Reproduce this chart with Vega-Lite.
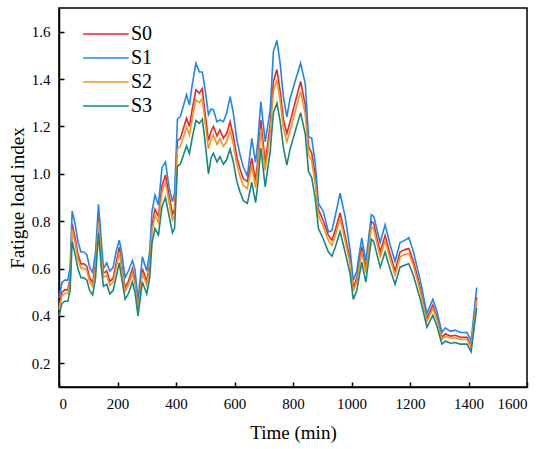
{
  "$schema": "https://vega.github.io/schema/vega-lite/v6.json",
  "width": 468,
  "height": 379,
  "autosize": {"type": "none"},
  "padding": {"left": 59, "top": 8, "right": 23, "bottom": 62},
  "background": "white",
  "data": {
    "values": [
      {"t": 0, "S0": 0.44, "S1": 0.475, "S2": 0.427, "S3": 0.398},
      {"t": 10, "S0": 0.50, "S1": 0.54, "S2": 0.485, "S3": 0.453},
      {"t": 20, "S0": 0.51, "S1": 0.551, "S2": 0.495, "S3": 0.462},
      {"t": 30, "S0": 0.51, "S1": 0.551, "S2": 0.495, "S3": 0.462},
      {"t": 38, "S0": 0.56, "S1": 0.605, "S2": 0.543, "S3": 0.507},
      {"t": 45, "S0": 0.79, "S1": 0.843, "S2": 0.766, "S3": 0.715},
      {"t": 55, "S0": 0.73, "S1": 0.788, "S2": 0.708, "S3": 0.661},
      {"t": 65, "S0": 0.66, "S1": 0.713, "S2": 0.64, "S3": 0.597},
      {"t": 75, "S0": 0.62, "S1": 0.67, "S2": 0.601, "S3": 0.561},
      {"t": 85, "S0": 0.62, "S1": 0.67, "S2": 0.601, "S3": 0.561},
      {"t": 95, "S0": 0.61, "S1": 0.659, "S2": 0.592, "S3": 0.552},
      {"t": 105, "S0": 0.56, "S1": 0.605, "S2": 0.543, "S3": 0.507},
      {"t": 115, "S0": 0.54, "S1": 0.583, "S2": 0.524, "S3": 0.489},
      {"t": 125, "S0": 0.62, "S1": 0.67, "S2": 0.601, "S3": 0.561},
      {"t": 135, "S0": 0.82, "S1": 0.871, "S2": 0.795, "S3": 0.75},
      {"t": 145, "S0": 0.66, "S1": 0.713, "S2": 0.64, "S3": 0.597},
      {"t": 152, "S0": 0.58, "S1": 0.6, "S2": 0.563, "S3": 0.525},
      {"t": 163, "S0": 0.59, "S1": 0.624, "S2": 0.572, "S3": 0.534},
      {"t": 174, "S0": 0.545, "S1": 0.589, "S2": 0.529, "S3": 0.493},
      {"t": 185, "S0": 0.56, "S1": 0.605, "S2": 0.543, "S3": 0.507},
      {"t": 195, "S0": 0.62, "S1": 0.67, "S2": 0.601, "S3": 0.561},
      {"t": 206, "S0": 0.69, "S1": 0.72, "S2": 0.669, "S3": 0.624},
      {"t": 214, "S0": 0.62, "S1": 0.67, "S2": 0.601, "S3": 0.561},
      {"t": 226, "S0": 0.52, "S1": 0.562, "S2": 0.504, "S3": 0.471},
      {"t": 237, "S0": 0.545, "S1": 0.589, "S2": 0.529, "S3": 0.493},
      {"t": 251, "S0": 0.60, "S1": 0.634, "S2": 0.582, "S3": 0.543},
      {"t": 260, "S0": 0.55, "S1": 0.594, "S2": 0.534, "S3": 0.498},
      {"t": 270, "S0": 0.43, "S1": 0.467, "S2": 0.417, "S3": 0.40},
      {"t": 285, "S0": 0.60, "S1": 0.65, "S2": 0.582, "S3": 0.543},
      {"t": 300, "S0": 0.545, "S1": 0.589, "S2": 0.529, "S3": 0.493},
      {"t": 310, "S0": 0.62, "S1": 0.67, "S2": 0.601, "S3": 0.561},
      {"t": 318, "S0": 0.78, "S1": 0.842, "S2": 0.757, "S3": 0.706},
      {"t": 328, "S0": 0.85, "S1": 0.91, "S2": 0.825, "S3": 0.769},
      {"t": 340, "S0": 0.82, "S1": 0.868, "S2": 0.795, "S3": 0.742},
      {"t": 352, "S0": 0.95, "S1": 1.026, "S2": 0.922, "S3": 0.86},
      {"t": 364, "S0": 0.995, "S1": 1.05, "S2": 0.965, "S3": 0.9},
      {"t": 376, "S0": 0.91, "S1": 0.945, "S2": 0.883, "S3": 0.824},
      {"t": 388, "S0": 0.83, "S1": 0.882, "S2": 0.805, "S3": 0.751},
      {"t": 395, "S0": 0.85, "S1": 0.918, "S2": 0.825, "S3": 0.769},
      {"t": 405, "S0": 1.14, "S1": 1.231, "S2": 1.106, "S3": 1.032},
      {"t": 415, "S0": 1.15, "S1": 1.242, "S2": 1.116, "S3": 1.041},
      {"t": 425, "S0": 1.19, "S1": 1.285, "S2": 1.154, "S3": 1.077},
      {"t": 436, "S0": 1.235, "S1": 1.334, "S2": 1.198, "S3": 1.118},
      {"t": 446, "S0": 1.20, "S1": 1.29, "S2": 1.164, "S3": 1.086},
      {"t": 455, "S0": 1.27, "S1": 1.372, "S2": 1.232, "S3": 1.149},
      {"t": 468, "S0": 1.354, "S1": 1.467, "S2": 1.313, "S3": 1.225},
      {"t": 480, "S0": 1.34, "S1": 1.43, "S2": 1.3, "S3": 1.213},
      {"t": 490, "S0": 1.36, "S1": 1.43, "S2": 1.319, "S3": 1.231},
      {"t": 499, "S0": 1.26, "S1": 1.361, "S2": 1.222, "S3": 1.14},
      {"t": 511, "S0": 1.14, "S1": 1.25, "S2": 1.106, "S3": 1.0},
      {"t": 520, "S0": 1.18, "S1": 1.274, "S2": 1.145, "S3": 1.068},
      {"t": 528, "S0": 1.20, "S1": 1.27, "S2": 1.164, "S3": 1.086},
      {"t": 540, "S0": 1.16, "S1": 1.22, "S2": 1.125, "S3": 1.05},
      {"t": 550, "S0": 1.185, "S1": 1.228, "S2": 1.149, "S3": 1.072},
      {"t": 562, "S0": 1.15, "S1": 1.22, "S2": 1.116, "S3": 1.041},
      {"t": 573, "S0": 1.17, "S1": 1.256, "S2": 1.135, "S3": 1.059},
      {"t": 585, "S0": 1.22, "S1": 1.326, "S2": 1.183, "S3": 1.104},
      {"t": 596, "S0": 1.16, "S1": 1.256, "S2": 1.125, "S3": 1.05},
      {"t": 608, "S0": 1.07, "S1": 1.143, "S2": 1.038, "S3": 0.968},
      {"t": 619, "S0": 1.02, "S1": 1.08, "S2": 0.989, "S3": 0.923},
      {"t": 630, "S0": 0.98, "S1": 1.03, "S2": 0.951, "S3": 0.887},
      {"t": 644, "S0": 0.967, "S1": 0.99, "S2": 0.938, "S3": 0.875},
      {"t": 659, "S0": 1.066, "S1": 1.15, "S2": 1.034, "S3": 0.965},
      {"t": 672, "S0": 0.97, "S1": 1.048, "S2": 0.941, "S3": 0.878},
      {"t": 680, "S0": 1.06, "S1": 1.14, "S2": 1.028, "S3": 0.959},
      {"t": 690, "S0": 1.227, "S1": 1.305, "S2": 1.19, "S3": 1.11},
      {"t": 705, "S0": 1.044, "S1": 1.135, "S2": 1.013, "S3": 0.945},
      {"t": 722, "S0": 1.21, "S1": 1.27, "S2": 1.174, "S3": 1.095},
      {"t": 733, "S0": 1.39, "S1": 1.516, "S2": 1.348, "S3": 1.258},
      {"t": 745, "S0": 1.44, "S1": 1.563, "S2": 1.397, "S3": 1.298},
      {"t": 756, "S0": 1.35, "S1": 1.467, "S2": 1.31, "S3": 1.222},
      {"t": 767, "S0": 1.23, "S1": 1.326, "S2": 1.193, "S3": 1.113},
      {"t": 779, "S0": 1.17, "S1": 1.24, "S2": 1.135, "S3": 1.037},
      {"t": 790, "S0": 1.22, "S1": 1.318, "S2": 1.183, "S3": 1.104},
      {"t": 807, "S0": 1.30, "S1": 1.39, "S2": 1.261, "S3": 1.177},
      {"t": 826, "S0": 1.39, "S1": 1.467, "S2": 1.348, "S3": 1.258},
      {"t": 842, "S0": 1.29, "S1": 1.38, "S2": 1.251, "S3": 1.167},
      {"t": 853, "S0": 1.115, "S1": 1.157, "S2": 1.082, "S3": 1.009},
      {"t": 864, "S0": 1.087, "S1": 1.15, "S2": 1.054, "S3": 0.984},
      {"t": 876, "S0": 0.99, "S1": 1.044, "S2": 0.96, "S3": 0.896},
      {"t": 887, "S0": 0.85, "S1": 0.875, "S2": 0.825, "S3": 0.769},
      {"t": 904, "S0": 0.80, "S1": 0.84, "S2": 0.776, "S3": 0.724},
      {"t": 921, "S0": 0.74, "S1": 0.755, "S2": 0.718, "S3": 0.67},
      {"t": 933, "S0": 0.72, "S1": 0.76, "S2": 0.698, "S3": 0.652},
      {"t": 944, "S0": 0.76, "S1": 0.82, "S2": 0.737, "S3": 0.688},
      {"t": 961, "S0": 0.835, "S1": 0.918, "S2": 0.81, "S3": 0.756},
      {"t": 978, "S0": 0.74, "S1": 0.82, "S2": 0.718, "S3": 0.67},
      {"t": 995, "S0": 0.64, "S1": 0.68, "S2": 0.621, "S3": 0.579},
      {"t": 1006, "S0": 0.52, "S1": 0.55, "S2": 0.504, "S3": 0.47},
      {"t": 1018, "S0": 0.56, "S1": 0.59, "S2": 0.543, "S3": 0.507},
      {"t": 1035, "S0": 0.693, "S1": 0.73, "S2": 0.672, "S3": 0.627},
      {"t": 1049, "S0": 0.60, "S1": 0.63, "S2": 0.582, "S3": 0.543},
      {"t": 1068, "S0": 0.80, "S1": 0.827, "S2": 0.776, "S3": 0.724},
      {"t": 1076, "S0": 0.79, "S1": 0.82, "S2": 0.766, "S3": 0.715},
      {"t": 1098, "S0": 0.67, "S1": 0.71, "S2": 0.65, "S3": 0.606},
      {"t": 1115, "S0": 0.74, "S1": 0.785, "S2": 0.718, "S3": 0.67},
      {"t": 1132, "S0": 0.66, "S1": 0.70, "S2": 0.64, "S3": 0.597},
      {"t": 1149, "S0": 0.59, "S1": 0.63, "S2": 0.572, "S3": 0.534},
      {"t": 1166, "S0": 0.67, "S1": 0.71, "S2": 0.65, "S3": 0.606},
      {"t": 1183, "S0": 0.68, "S1": 0.72, "S2": 0.66, "S3": 0.615},
      {"t": 1196, "S0": 0.685, "S1": 0.73, "S2": 0.664, "S3": 0.62},
      {"t": 1212, "S0": 0.63, "S1": 0.67, "S2": 0.611, "S3": 0.57},
      {"t": 1235, "S0": 0.52, "S1": 0.55, "S2": 0.504, "S3": 0.471},
      {"t": 1258, "S0": 0.39, "S1": 0.41, "S2": 0.378, "S3": 0.353},
      {"t": 1278, "S0": 0.445, "S1": 0.47, "S2": 0.432, "S3": 0.403},
      {"t": 1292, "S0": 0.395, "S1": 0.42, "S2": 0.383, "S3": 0.357},
      {"t": 1309, "S0": 0.31, "S1": 0.33, "S2": 0.301, "S3": 0.281},
      {"t": 1321, "S0": 0.325, "S1": 0.35, "S2": 0.315, "S3": 0.294},
      {"t": 1338, "S0": 0.315, "S1": 0.335, "S2": 0.306, "S3": 0.285},
      {"t": 1355, "S0": 0.318, "S1": 0.34, "S2": 0.308, "S3": 0.288},
      {"t": 1372, "S0": 0.31, "S1": 0.33, "S2": 0.301, "S3": 0.281},
      {"t": 1395, "S0": 0.31, "S1": 0.33, "S2": 0.301, "S3": 0.281},
      {"t": 1409, "S0": 0.275, "S1": 0.295, "S2": 0.267, "S3": 0.249},
      {"t": 1428, "S0": 0.48, "S1": 0.52, "S2": 0.466, "S3": 0.434}
    ]
  },
  "transform": [
    {"fold": ["S0", "S1", "S2", "S3"], "as": ["series", "value"]}
  ],
  "mark": {"type": "line", "strokeWidth": 1.6},
  "encoding": {
    "x": {
      "field": "t",
      "type": "quantitative",
      "title": "Time (min)",
      "scale": {"domain": [0, 1600], "nice": false, "zero": false},
      "axis": {"values": [0, 200, 400, 600, 800, 1000, 1200, 1400, 1600], "format": "d", "labelPadding": 14, "titlePadding": 12}
    },
    "y": {
      "field": "value",
      "type": "quantitative",
      "title": "Fatigue load index",
      "scale": {"domain": [0.1, 1.7], "nice": false, "zero": false},
      "axis": {"values": [0.2, 0.4, 0.6, 0.8, 1.0, 1.2, 1.4, 1.6], "format": ".1f", "labelPadding": 14, "titlePadding": 4}
    },
    "color": {
      "field": "series",
      "type": "nominal",
      "title": null,
      "scale": {"domain": ["S0", "S1", "S2", "S3"], "range": ["#E8262B", "#1F86F0", "#F7941D", "#18877D"]},
      "legend": {
        "orient": "none",
        "legendX": 37,
        "legendY": 16,
        "symbolType": "M-3,0H3",
        "symbolSize": 231,
        "symbolStrokeWidth": 1.3,
        "labelOffset": 15,
        "labelFontSize": 20,
        "labelFont": "Liberation Serif, Times New Roman, serif",
        "labelColor": "black",
        "rowPadding": 4,
        "padding": 0
      }
    }
  },
  "config": {
    "font": "Liberation Serif, Times New Roman, serif",
    "view": {"stroke": "black", "strokeWidth": 1.5},
    "axis": {
      "grid": false,
      "domainColor": "black",
      "domainWidth": 1.5,
      "tickColor": "black",
      "tickWidth": 1.5,
      "tickSize": -5,
      "labelFont": "Liberation Serif, Times New Roman, serif",
      "labelFontSize": 15,
      "labelColor": "black",
      "titleFont": "Liberation Serif, Times New Roman, serif",
      "titleFontSize": 19,
      "titleFontWeight": "normal",
      "titleColor": "black"
    }
  }
}
